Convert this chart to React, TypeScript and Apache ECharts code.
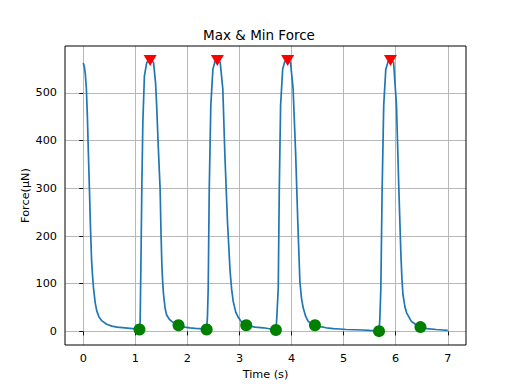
import React, { useEffect, useRef } from "react";
import * as echarts from "echarts";

// Force trace (time in s, force in µN)
const TIME = [
  0.0, 0.02, 0.04, 0.06, 0.08, 0.1, 0.12, 0.14, 0.16, 0.18, 0.2, 0.23, 0.26, 0.3, 0.36, 0.45, 0.55, 0.65, 0.8, 0.95, 1.05, 1.08,
  1.093, 1.11, 1.125, 1.145, 1.175, 1.22, 1.25, 1.285, 1.32, 1.35, 1.39, 1.41, 1.44, 1.476, 1.495, 1.51, 1.525, 1.54, 1.57, 1.6, 1.65, 1.7, 1.76, 1.83,
  1.95, 2.05, 2.15, 2.24, 2.32, 2.37,
  2.385, 2.4, 2.42, 2.45, 2.49, 2.53, 2.575, 2.61, 2.63, 2.68, 2.72, 2.77, 2.82, 2.85, 2.88, 2.93, 2.98, 3.05, 3.13,
  3.2, 3.3, 3.46, 3.6, 3.7,
  3.715, 3.745, 3.765, 3.79, 3.83, 3.87, 3.925, 3.96, 3.98, 4.03, 4.08, 4.12, 4.16, 4.19, 4.225, 4.27, 4.32, 4.38, 4.45,
  4.55, 4.67, 4.8, 4.93, 5.05, 5.2, 5.35, 5.5, 5.6, 5.68,
  5.695, 5.715, 5.74, 5.77, 5.81, 5.855, 5.9, 5.94, 5.96, 6.015, 6.06, 6.1, 6.12, 6.14, 6.18, 6.21, 6.3, 6.38, 6.475,
  6.6, 6.78, 6.9, 7.0,
];
const FORCE = [
  563, 556, 540, 510, 450, 370, 295, 215, 150, 115, 88, 60, 43, 31, 22, 15, 11, 9, 7.5, 6, 5, 4,
  21, 160, 300, 439, 536, 564, 567, 568, 567, 564, 520, 474, 390, 300, 200, 140, 105, 80, 50, 35, 26, 21, 16, 13,
  9, 7.6, 6.5, 6, 5, 4,
  30, 91, 300, 474, 550, 566, 568, 566, 564, 509, 370, 230, 126, 88, 63, 40, 29, 18, 13,
  11, 9, 7.6, 5, 3,
  25, 91, 300, 474, 550, 566, 568, 566, 564, 509, 370, 230, 105, 70, 49, 32, 21, 16, 13,
  10, 7.6, 6, 5, 4, 3.5, 3, 2, 1.5, 0.5,
  25, 91, 300, 474, 550, 566, 568, 566, 564, 474, 300, 161, 110, 77, 50, 39, 21, 15, 9,
  6, 4, 3, 2,
];

// Detected maxima
const MAX_TIME = [1.285, 2.575, 3.925, 5.9];
const MAX_FORCE = [568, 568, 568, 568];

// Detected minima
const MIN_TIME = [1.08, 1.83, 2.37, 3.13, 3.7, 4.45, 5.68, 6.475];
const MIN_FORCE = [4, 13, 4, 13, 3, 13, 0.5, 9];

const X_TICKS = [0, 1, 2, 3, 4, 5, 6, 7];
const Y_TICKS = [0, 100, 200, 300, 400, 500];

const FONT = "DejaVu Sans";

export default function App() {
  const ref = useRef<HTMLDivElement>(null);

  useEffect(() => {
    if (!ref.current) return;
    const chart = echarts.init(ref.current, undefined, { renderer: "svg" });
    const gridLeft = 65;
    const gridTop = 46;
    const gridW = 401;
    const gridH = 299;
    chart.setOption({
      animation: false,
      backgroundColor: "#ffffff",
      title: {
        text: "Max & Min Force",
        left: "center",
        top: 23,
        textStyle: { fontFamily: FONT, fontSize: 13.5, fontWeight: "normal", color: "#000" },
      },
      grid: { left: gridLeft, top: gridTop, width: gridW, height: gridH, show: false },
      xAxis: {
        type: "value",
        min: -0.35,
        max: 7.35,
        splitNumber: 8,
        name: "Time (s)",
        nameLocation: "middle",
        nameGap: 24,
        nameMoveOverlap: false,
        nameTextStyle: { fontFamily: FONT, fontSize: 11.25, color: "#000" },
        axisLine: { show: false },
        axisTick: { show: true, customValues: X_TICKS, length: 4, lineStyle: { color: "#000", width: 0.9 } },
        axisLabel: {
          customValues: X_TICKS,
          margin: 8,
          fontFamily: FONT,
          fontSize: 11.25,
          color: "#000",
        },
        splitLine: { show: true, lineStyle: { color: "#b0b0b0", width: 0.9 } },
      },
      yAxis: {
        type: "value",
        min: -28.5,
        max: 598.5,
        splitNumber: 6,
        name: "Force(μN)",
        nameLocation: "middle",
        nameGap: 34,
        nameMoveOverlap: false,
        nameRotate: 90,
        nameTextStyle: { fontFamily: FONT, fontSize: 11.25, color: "#000" },
        axisLine: { show: false },
        axisTick: { show: true, customValues: Y_TICKS, length: 4, lineStyle: { color: "#000", width: 0.9 } },
        axisLabel: {
          customValues: Y_TICKS,
          margin: 8,
          fontFamily: FONT,
          fontSize: 11.25,
          color: "#000",
        },
        splitLine: { show: true, lineStyle: { color: "#b0b0b0", width: 0.9 } },
      },
      graphic: [
        {
          type: "rect",
          z: 100,
          silent: true,
          shape: { x: gridLeft, y: gridTop, width: gridW, height: gridH },
          style: { fill: "none", stroke: "#000", lineWidth: 1 },
        },
      ],
      series: [
        {
          type: "line",
          data: TIME.map((t, i) => [t, FORCE[i]]),
          showSymbol: false,
          symbol: "none",
          lineStyle: { color: "#1f77b4", width: 1.7 },
          z: 2,
        },
        {
          type: "scatter",
          data: MAX_TIME.map((t, i) => [t, MAX_FORCE[i]]),
          symbol: "triangle",
          symbolRotate: 180,
          symbolSize: [13, 11],
          itemStyle: { color: "#ff0000", opacity: 1 },
          z: 3,
        },
        {
          type: "scatter",
          data: MIN_TIME.map((t, i) => [t, MIN_FORCE[i]]),
          symbol: "circle",
          symbolSize: 12,
          itemStyle: { color: "#008000", opacity: 1 },
          z: 3,
        },
      ],
    });
    return () => chart.dispose();
  }, []);

  return (
    <div
      ref={ref}
      style={{ position: "absolute", left: 0, top: 0, width: 518, height: 388 }}
    />
  );
}
